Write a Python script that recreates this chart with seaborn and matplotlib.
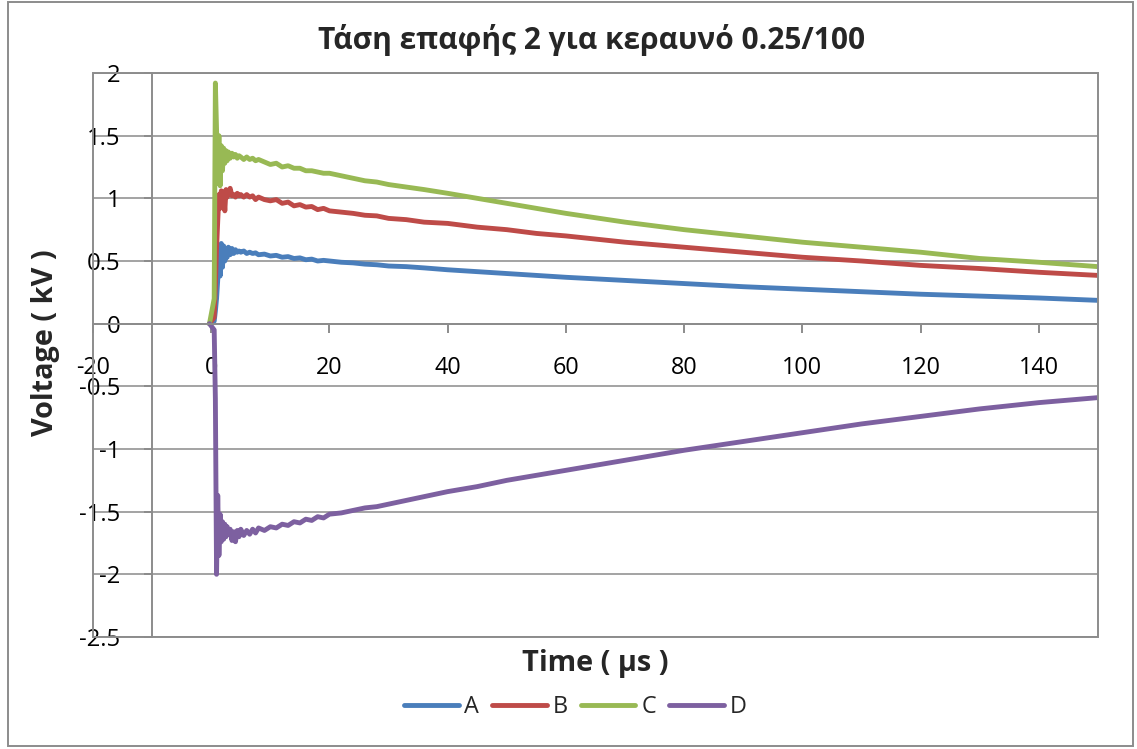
import matplotlib
matplotlib.use("Agg")
import matplotlib.pyplot as plt
from matplotlib.patches import Rectangle
from matplotlib.lines import Line2D
import pandas as pd
import seaborn as sns

# Sample times (μs) shared by the four measured traces
time_us = [-0.3, 0.5, 0.7, 0.9, 1.1, 1.3, 1.5, 1.7, 1.9, 2.1, 2.3, 2.5, 2.7, 2.9,
           3.2, 3.5, 3.8, 4.1, 4.4, 4.7, 5.0, 5.5, 6.0, 6.5, 7.0, 7.5, 8.0,
           9, 10, 11, 12, 13, 14, 15, 16, 17, 18, 19, 20, 22, 24, 26, 28, 30,
           33, 36, 40, 45, 50, 55, 60, 70, 80, 90, 100, 110, 120, 130, 140, 150]

# Contact voltage (kV) at each point
volt_a = [0.0, 0.02, 0.10, 0.20, 0.35, 0.62, 0.38, 0.64, 0.45, 0.62, 0.50, 0.60, 0.53, 0.61,
          0.55, 0.60, 0.56, 0.59, 0.57, 0.58, 0.57, 0.58, 0.56, 0.57, 0.56, 0.565, 0.55,
          0.555, 0.54, 0.545, 0.53, 0.535, 0.52, 0.525, 0.51, 0.515, 0.50, 0.505, 0.50,
          0.49, 0.485, 0.475, 0.47, 0.46, 0.455, 0.445, 0.43, 0.415, 0.40, 0.385, 0.37,
          0.345, 0.32, 0.295, 0.275, 0.255, 0.235, 0.22, 0.205, 0.186]
volt_b = [0.0, 0.05, 0.30, 0.60, 0.82, 1.03, 0.92, 1.06, 0.98, 1.05, 0.90, 1.07, 1.01, 1.04,
          1.08, 1.02, 1.03, 1.01, 1.04, 1.02, 1.03, 1.01, 1.03, 1.01, 1.02, 0.99, 1.01,
          0.99, 0.98, 0.99, 0.96, 0.97, 0.94, 0.95, 0.93, 0.935, 0.91, 0.92, 0.90,
          0.89, 0.88, 0.865, 0.86, 0.84, 0.83, 0.81, 0.80, 0.77, 0.75, 0.72, 0.70,
          0.65, 0.61, 0.57, 0.53, 0.50, 0.465, 0.44, 0.41, 0.385]
volt_c = [0.0, 0.20, 1.92, 1.55, 1.12, 1.50, 1.10, 1.42, 1.22, 1.40, 1.28, 1.38, 1.30, 1.37,
          1.32, 1.36, 1.33, 1.35, 1.32, 1.34, 1.33, 1.31, 1.33, 1.31, 1.32, 1.30, 1.31,
          1.29, 1.27, 1.28, 1.25, 1.26, 1.24, 1.24, 1.22, 1.22, 1.21, 1.20, 1.20,
          1.18, 1.16, 1.14, 1.13, 1.11, 1.09, 1.07, 1.04, 1.00, 0.96, 0.92, 0.88,
          0.81, 0.75, 0.70, 0.65, 0.61, 0.57, 0.52, 0.49, 0.455]
volt_d = [0.0, -0.05, -0.60, -2.00, -1.37, -1.85, -1.52, -1.74, -1.58, -1.72, -1.60, -1.70, -1.62, -1.68,
          -1.64, -1.73, -1.66, -1.74, -1.65, -1.70, -1.64, -1.69, -1.65, -1.68, -1.64, -1.67, -1.63,
          -1.65, -1.62, -1.63, -1.60, -1.61, -1.58, -1.59, -1.56, -1.57, -1.54, -1.55, -1.52,
          -1.51, -1.49, -1.47, -1.46, -1.44, -1.41, -1.38, -1.34, -1.30, -1.25, -1.21, -1.17,
          -1.09, -1.01, -0.94, -0.87, -0.80, -0.74, -0.68, -0.63, -0.59]

series_names = ["A", "B", "C", "D"]
series_colors = ["#4A7EBB", "#BE4B48", "#98B954", "#7D60A0"]
x_ticks = [-20, 0, 20, 40, 60, 80, 100, 120, 140]
y_ticks = [-2.5, -2, -1.5, -1, -0.5, 0, 0.5, 1, 1.5, 2]

title_text = "Τάση επαφής 2 για κεραυνό 0.25/100"
x_title = "Time ( μs )"
y_title = "Voltage ( kV )"

sns.set_style("white")
plt.rcParams["font.family"] = ["Open Sans", "DejaVu Sans"]

W, H = 1137, 749
GRID = "#a3a3a3"
AXIS = "#8c8c8c"

fig = plt.figure(figsize=(W / 100, H / 100), dpi=100)
ax = fig.add_axes([93 / W, 1 - 637 / H, (1098 - 93) / W, (637 - 73) / H])

frames = []
for name, vals in zip(series_names, [volt_a, volt_b, volt_c, volt_d]):
    frames.append(pd.DataFrame({"time": time_us, "voltage": vals, "series": name}))
df = pd.concat(frames, ignore_index=True)

sns.lineplot(data=df, x="time", y="voltage", hue="series", hue_order=series_names,
             palette=dict(zip(series_names, series_colors)), estimator=None, sort=False,
             lw=3.5, legend=False, ax=ax, solid_capstyle="round", solid_joinstyle="round")

ax.set_xlim(-20, 150)
ax.set_ylim(-2.5, 2)
ax.set_xticks(x_ticks)
ax.set_xticklabels([f"{v:g}" for v in x_ticks])
ax.set_yticks(y_ticks)
ax.set_yticklabels([f"{v:g}" for v in y_ticks])
ax.set_xlabel("")
ax.set_ylabel("")

# Axes cross inside the plot area: vertical axis at t = -10, horizontal at 0 kV
ax.spines["left"].set_position(("data", -10))
ax.spines["bottom"].set_position(("data", 0))
for side in ["left", "bottom"]:
    ax.spines[side].set_color(AXIS)
    ax.spines[side].set_linewidth(1.4)
for side in ["top", "right"]:
    ax.spines[side].set_visible(False)
ax.add_patch(Rectangle((0, 0), 1, 1, transform=ax.transAxes, fill=False,
                       edgecolor=AXIS, lw=1.4, clip_on=False, zorder=3))

ax.yaxis.grid(True, color=GRID, lw=1.4)
ax.xaxis.grid(False)
ax.set_axisbelow(True)

ax.tick_params(axis="x", direction="out", length=6.5, width=1.4, color=AXIS,
               pad=17, labelsize=16.8, labelcolor="black", bottom=True)
ax.tick_params(axis="y", direction="out", length=6, width=1.4, color=AXIS,
               pad=17, labelsize=17.2, labelcolor="black", left=True)

fig.text(592 / W, 1 - 40 / H, title_text, ha="center", va="center",
         fontsize=21.5, fontweight="bold")
fig.text(595 / W, 1 - 663 / H, x_title, ha="center", va="center",
         fontsize=20.8, fontweight="bold")
fig.text(46 / W, 1 - 343 / H, y_title, ha="center", va="center", rotation=90,
         fontsize=20.8, fontweight="bold")

handles = [Line2D([], [], color=c, lw=3.5, solid_capstyle="round") for c in series_colors]
fig.legend(handles, series_names, loc="center", bbox_to_anchor=(575 / W, 1 - 707 / H),
           ncol=4, frameon=False, fontsize=16.8, handlelength=2.35,
           handletextpad=0.25, columnspacing=0.55)

# Chart area frame
fig.add_artist(Rectangle((8 / W, 3 / H), (1133 - 8) / W, 744 / H,
                         transform=fig.transFigure, fill=False, edgecolor=AXIS, lw=1.4))

fig.savefig("out.png", dpi=100)
